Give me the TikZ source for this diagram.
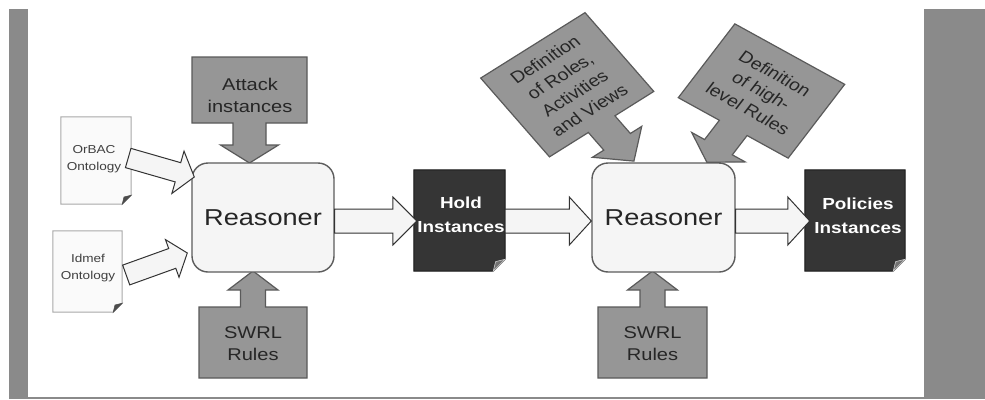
\documentclass[tikz,border=0pt]{standalone}
\usepackage{fontspec}
\setmainfont{Liberation Sans}[FakeStretch=1.18]
\newfontfamily\plainsans{Liberation Sans}
\usetikzlibrary{calc}

\definecolor{bargray}{HTML}{8A8A8A}
\definecolor{calloutfill}{HTML}{969696}
\definecolor{calloutline}{HTML}{5A5A5A}
\definecolor{boxline}{HTML}{5C5C5C}
\definecolor{boxfill}{HTML}{F5F5F5}
\definecolor{darkdoc}{HTML}{353535}
\definecolor{docline}{HTML}{A8A8A8}

\tikzset{
  callout/.style={fill=calloutfill, draw=calloutline, line width=1.2pt, line join=miter},
  callouttext/.style={font=\fontsize{17}{22}\selectfont, align=center, text=black!85},
  rottext/.style={font=\plainsans\fontsize{16.5}{21}\selectfont, align=center, text=black!85, transform shape},
  reasoner/.style={draw=boxline, fill=boxfill, line width=1.4pt, rounded corners=16pt,
    minimum height=109pt, font=\fontsize{23}{26}\selectfont, text=black!85},
  whitearrow/.style={fill=white!96!black, draw=black!80, line width=1pt, line join=miter},
  docbox/.style={minimum width=70pt, inner sep=0pt, font=\fontsize{11.5}{17}\selectfont, align=center, text=black!75},
  docline/.style={fill=white!98!black, draw=docline, line width=1pt},
  docfold/.style={fill=black!70, draw=black!70, line width=0.6pt},
  darkbox/.style={minimum width=91pt, minimum height=101pt, inner sep=0pt},
  darkline/.style={fill=darkdoc, draw=black!90, line width=1pt},
  darkfold/.style={fill=black!55, draw=white!80!black, line width=0.6pt},
  darktext/.style={font=\bfseries\fontsize{16}{24}\selectfont, align=center, text=white},
}

% callout outline: box of half size (#1,#2) with an arrow pointing along local +y
% #3 shaft half width, #4 head base, #5 head half width, #6 tip
\newcommand\calloutshape[6]{%
  \draw[callout] (-#1,-#2) -- (#1,-#2) -- (#1,#2) -- (#3,#2) -- (#3,#4) -- (#5,#4)
    -- (0,#6) -- (-#5,#4) -- (-#3,#4) -- (-#3,#2) -- (-#1,#2) -- cycle;}

% block arrow from #2 to #3: #4 shaft half width, #5 head half width, #6 head length
\newcommand\blockarrow[6]{%
  \coordinate (ba-s) at (#2);
  \coordinate (ba-e) at (#3);
  \coordinate (ba-h) at ($(ba-e)!#6!(ba-s)$);
  \draw[#1] ($(ba-s)!#4!90:(ba-e)$) -- ($(ba-h)!#4!90:(ba-e)$) -- ($(ba-h)!#5!90:(ba-e)$)
    -- (ba-e) -- ($(ba-h)!#5!-90:(ba-e)$) -- ($(ba-h)!#4!-90:(ba-e)$)
    -- ($(ba-s)!#4!-90:(ba-e)$) -- cycle;}

% page outline with a dog-eared lower right corner
\newcommand\docshape[4]{%
  \draw[#1] (#3.north west) -- (#3.north east) -- ($(#3.south east)+(0,-#4)$)
    -- ($(#3.south east)+(-#4,0)$) -- (#3.south west) -- cycle;
  \draw[#2] ($(#3.south east)+(0,-#4)$) -- ($(#3.south east)+(-#4,0)$)
    -- ($(#3.south east)+(-0.8*#4,-0.8*#4)$) -- cycle;}

\begin{document}
\begin{tikzpicture}[x=1pt, y=-1pt]
  \useasboundingbox (0,0) rectangle (985,399);
  \fill[white] (0,0) rectangle (985,399);

  % frame
  \fill[bargray] (9,9) rectangle (28,399);
  \fill[bargray] (924,9) rectangle (985,399);
  \draw[bargray, line width=2pt] (28,397.5) -- (924,397.5);

  % input callouts
  \begin{scope}[shift={(249.5,90)}]
    \calloutshape{57.5}{33}{16.5}{55}{29}{73}
  \end{scope}
  \node[callouttext] (attack) at (250,95) {Attack\\instances};

  \begin{scope}[shift={(253,342.5)}, yscale=-1]
    \calloutshape{54}{35.5}{12.5}{52.5}{25}{71.5}
  \end{scope}
  \node[callouttext] (swrl1) at (253,344) {SWRL\\Rules};

  \begin{scope}[shift={(652.5,342.5)}, yscale=-1]
    \calloutshape{54.5}{35.5}{12.5}{52.5}{25}{71.5}
  \end{scope}
  \node[callouttext] (swrl2) at (652.5,344) {SWRL\\Rules};

  \begin{scope}[shift={(567.25,84.75)}, xscale=1.18, rotate=36.5]
    \calloutshape{55}{49}{14}{71}{26}{95}
    \node[rottext] (defroles) at (0,0) {Definition\\of Roles,\\Activities\\and Views};
  \end{scope}

  \begin{scope}[shift={(761.5,91)}, xscale=1.18, rotate=-33]
    \calloutshape{55.5}{44}{14}{67}{27}{85}
    \node[rottext] (defrules) at (0,0) {Definition\\of high-\\level Rules};
  \end{scope}

  % reasoners
  \node[reasoner, minimum width=142pt] (r1) at (263,217.5) {Reasoner};
  \node[reasoner, minimum width=143pt] (r2) at (663.5,217.5) {Reasoner};

  % ontology documents
  \node[docbox, minimum height=87pt] (orbac) at (96,160.5) {};
  \docshape{docline}{docfold}{orbac}{9}
  \node[docbox] (orbactxt) at (94,159) {OrBAC\\Ontology};

  \node[docbox, minimum width=69pt, minimum height=81pt] (idmef) at (87.5,271.5) {};
  \docshape{docline}{docfold}{idmef}{9}
  \node[docbox] (idmeftxt) at (88,268) {Idmef\\Ontology};

  % instance documents
  \node[darkbox] (hold) at (459.5,220.5) {};
  \docshape{darkline}{darkfold}{hold}{12}
  \node[darktext] (holdtxt) at (461,215) {Hold\\Instances};

  \node[darkbox, minimum width=100pt] (policies) at (855,220.5) {};
  \docshape{darkline}{darkfold}{policies}{12}
  \node[darktext] (policiestxt) at (858,216) {Policies\\Instances};

  % flow arrows
  \blockarrow{whitearrow}{$(orbac.east)+(-3,-2.5)$}{$(r1.west)+(3,-40.5)$}{10pt}{22pt}{17pt}
  \blockarrow{whitearrow}{$(idmef.east)+(4,3.5)$}{$(r1.west)+(-4,35.5)$}{10.5pt}{20pt}{16pt}
  \blockarrow{whitearrow}{$(r1.east)+(0,3.5)$}{$(hold.west)+(3,0.5)$}{12pt}{24pt}{24pt}
  \blockarrow{whitearrow}{$(hold.east)+(0,0.5)$}{$(r2.west)+(0,3.5)$}{12pt}{24pt}{22pt}
  \blockarrow{whitearrow}{$(r2.east)+(0,3.5)$}{$(policies.west)+(5,0.5)$}{12pt}{24pt}{22pt}
\end{tikzpicture}
\end{document}
